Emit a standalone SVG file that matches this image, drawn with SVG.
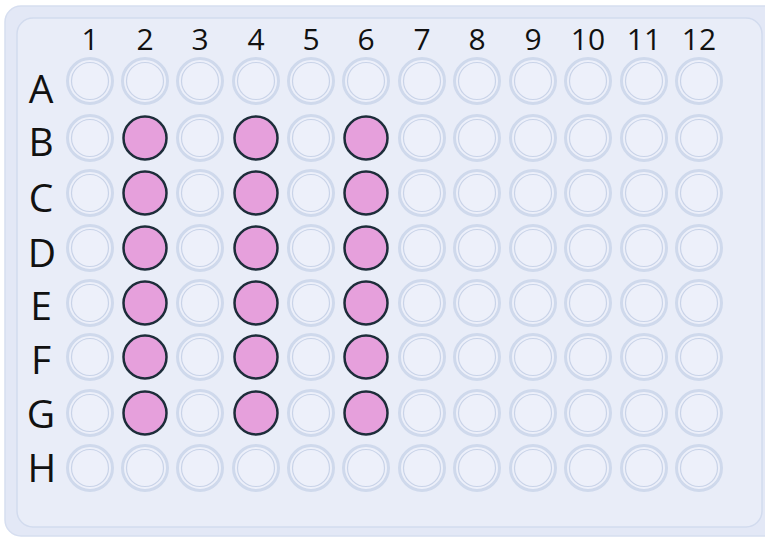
<svg xmlns="http://www.w3.org/2000/svg" width="765" height="538" viewBox="0 0 765 538">
<defs>
<style>
.lbl{font-family:"Open Sans","Noto Sans","DejaVu Sans",sans-serif;font-size:30px;fill:#111;text-anchor:middle}
.row{font-size:39px}
.e{fill:#edf0fa;stroke:#cfd9ec;stroke-width:3}
.ei{fill:none;stroke:#c9d3e8;stroke-width:1.2}
.p{fill:#e6a0dc;stroke:#1d2d3a;stroke-width:2.5}
</style>
<g id="ew"><circle class="e" r="22.5"/><circle class="ei" r="18.5"/></g>
<g id="pw"><circle class="p" r="21.5"/></g>
</defs>
<rect width="765" height="538" fill="#ffffff"/>
<g id="plate">
<rect x="5" y="6" width="775" height="530" rx="16" fill="#e3e8f6" stroke="#d6def0" stroke-width="1.5"/>
<rect x="17" y="18" width="745" height="509" rx="16" fill="#e9edf8" stroke="#d2dbee" stroke-width="1.5"/>
</g>
<g id="col-labels">
<text class="lbl" x="90" y="50">1</text>
<text class="lbl" x="145" y="50">2</text>
<text class="lbl" x="200" y="50">3</text>
<text class="lbl" x="256" y="50">4</text>
<text class="lbl" x="311" y="50">5</text>
<text class="lbl" x="366" y="50">6</text>
<text class="lbl" x="422" y="50">7</text>
<text class="lbl" x="477" y="50">8</text>
<text class="lbl" x="533" y="50">9</text>
<text class="lbl" x="588" y="50">10</text>
<text class="lbl" x="644" y="50">11</text>
<text class="lbl" x="699" y="50">12</text>
</g>
<g id="row-labels">
<text class="lbl row" x="41" y="103">A</text>
<text class="lbl row" x="41" y="156">B</text>
<text class="lbl row" x="41" y="212">C</text>
<text class="lbl row" x="42" y="267">D</text>
<text class="lbl row" x="41" y="320">E</text>
<text class="lbl row" x="41" y="374">F</text>
<text class="lbl row" x="41" y="428">G</text>
<text class="lbl row" x="42" y="482">H</text>
</g>
<g id="wells">
<!-- Row A -->
<use href="#ew" x="90" y="81"/><use href="#ew" x="145" y="81"/><use href="#ew" x="200" y="81"/><use href="#ew" x="256" y="81"/><use href="#ew" x="311" y="81"/><use href="#ew" x="366" y="81"/><use href="#ew" x="422" y="81"/><use href="#ew" x="477" y="81"/><use href="#ew" x="533" y="81"/><use href="#ew" x="588" y="81"/><use href="#ew" x="644" y="81"/><use href="#ew" x="699" y="81"/>
<!-- Row B -->
<use href="#ew" x="90" y="138"/><use href="#pw" x="145" y="138"/><use href="#ew" x="200" y="138"/><use href="#pw" x="256" y="138"/><use href="#ew" x="311" y="138"/><use href="#pw" x="366" y="138"/><use href="#ew" x="422" y="138"/><use href="#ew" x="477" y="138"/><use href="#ew" x="533" y="138"/><use href="#ew" x="588" y="138"/><use href="#ew" x="644" y="138"/><use href="#ew" x="699" y="138"/>
<!-- Row C -->
<use href="#ew" x="90" y="193"/><use href="#pw" x="145" y="193"/><use href="#ew" x="200" y="193"/><use href="#pw" x="256" y="193"/><use href="#ew" x="311" y="193"/><use href="#pw" x="366" y="193"/><use href="#ew" x="422" y="193"/><use href="#ew" x="477" y="193"/><use href="#ew" x="533" y="193"/><use href="#ew" x="588" y="193"/><use href="#ew" x="644" y="193"/><use href="#ew" x="699" y="193"/>
<!-- Row D -->
<use href="#ew" x="90" y="248"/><use href="#pw" x="145" y="248"/><use href="#ew" x="200" y="248"/><use href="#pw" x="256" y="248"/><use href="#ew" x="311" y="248"/><use href="#pw" x="366" y="248"/><use href="#ew" x="422" y="248"/><use href="#ew" x="477" y="248"/><use href="#ew" x="533" y="248"/><use href="#ew" x="588" y="248"/><use href="#ew" x="644" y="248"/><use href="#ew" x="699" y="248"/>
<!-- Row E -->
<use href="#ew" x="90" y="303"/><use href="#pw" x="145" y="303"/><use href="#ew" x="200" y="303"/><use href="#pw" x="256" y="303"/><use href="#ew" x="311" y="303"/><use href="#pw" x="366" y="303"/><use href="#ew" x="422" y="303"/><use href="#ew" x="477" y="303"/><use href="#ew" x="533" y="303"/><use href="#ew" x="588" y="303"/><use href="#ew" x="644" y="303"/><use href="#ew" x="699" y="303"/>
<!-- Row F -->
<use href="#ew" x="90" y="357"/><use href="#pw" x="145" y="357"/><use href="#ew" x="200" y="357"/><use href="#pw" x="256" y="357"/><use href="#ew" x="311" y="357"/><use href="#pw" x="366" y="357"/><use href="#ew" x="422" y="357"/><use href="#ew" x="477" y="357"/><use href="#ew" x="533" y="357"/><use href="#ew" x="588" y="357"/><use href="#ew" x="644" y="357"/><use href="#ew" x="699" y="357"/>
<!-- Row G -->
<use href="#ew" x="90" y="413"/><use href="#pw" x="145" y="413"/><use href="#ew" x="200" y="413"/><use href="#pw" x="256" y="413"/><use href="#ew" x="311" y="413"/><use href="#pw" x="366" y="413"/><use href="#ew" x="422" y="413"/><use href="#ew" x="477" y="413"/><use href="#ew" x="533" y="413"/><use href="#ew" x="588" y="413"/><use href="#ew" x="644" y="413"/><use href="#ew" x="699" y="413"/>
<!-- Row H -->
<use href="#ew" x="90" y="468"/><use href="#ew" x="145" y="468"/><use href="#ew" x="200" y="468"/><use href="#ew" x="256" y="468"/><use href="#ew" x="311" y="468"/><use href="#ew" x="366" y="468"/><use href="#ew" x="422" y="468"/><use href="#ew" x="477" y="468"/><use href="#ew" x="533" y="468"/><use href="#ew" x="588" y="468"/><use href="#ew" x="644" y="468"/><use href="#ew" x="699" y="468"/>
</g>
</svg>
